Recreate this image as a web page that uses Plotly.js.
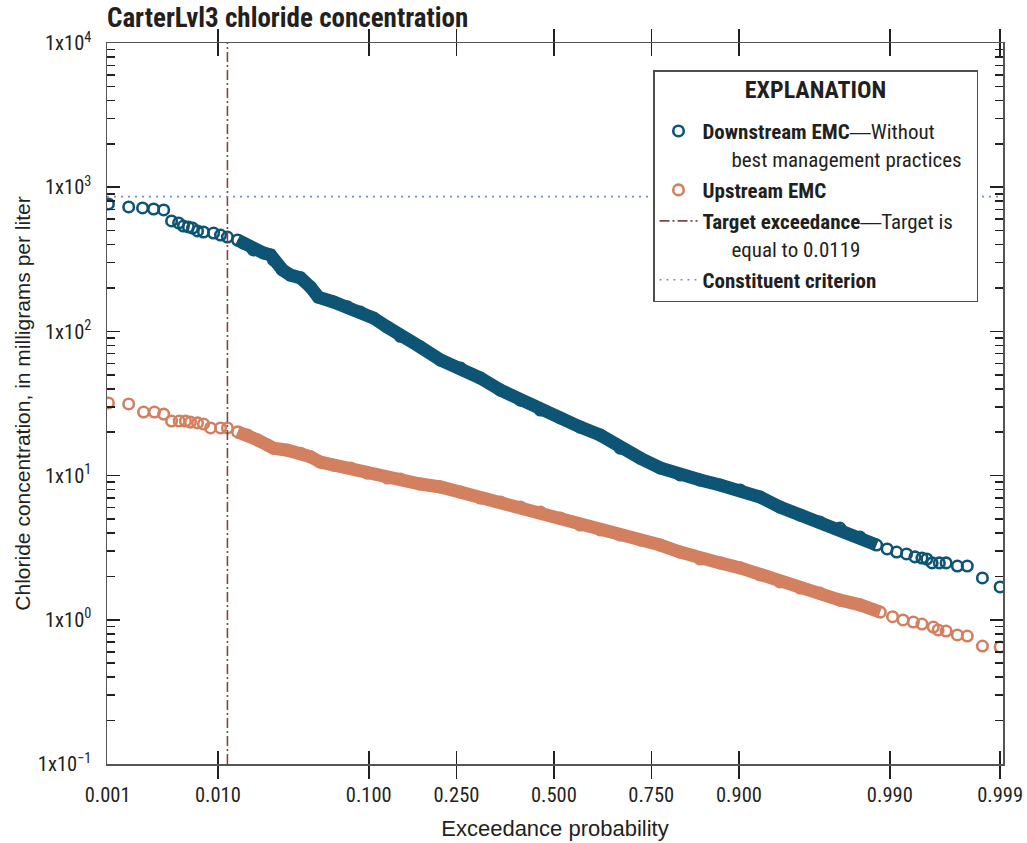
<!DOCTYPE html>
<html>
<head>
<meta charset="utf-8">
<script src="https://cdn.plot.ly/plotly-3.0.1.min.js"></script>
<style>html,body{margin:0;padding:0;background:#fff;}#chart{width:1027px;height:843px;}</style>
</head>
<body>
<div id="chart"></div>
<script>
// ---------- data ----------
const chartTitle = 'CarterLvl3 chloride concentration';

// Downstream EMC (without BMPs): exceedance probability and concentration (mg/L)
const downstreamProb = [0.00102,0.00162,0.00220,0.00279,0.00345,0.00406,0.00468,0.00516,0.00570,0.00618,0.00681,
  0.00763,0.00923,0.0105,0.0119,0.01426,0.0158,0.01875,0.0222,0.0249,0.0261,0.0301,0.0340,0.0397,0.0460,0.0515,0.0635,0.0765,0.0902,0.1057,0.1246,0.1440,
  0.1776,0.2164,0.2591,0.3054,0.3558,0.4084,0.4629,0.518,0.5726,0.6262,0.6770,0.7254,0.7692,0.8090,0.8446,0.8750,0.9016,0.9233,0.9412,0.9560,0.9672,0.9762,0.9830,0.9873,0.9895,
  0.9912,0.9927,0.9938,0.9946,0.9951,0.9956,0.9962,0.9967,0.9974,0.9979,0.9985,0.9990];
const downstreamConc = [765,729,718,706,695,583,565,538,530,521,497,
  489,481,466,451,430,410,367,350,339,313,267,246,235,203,173,160,148,136,124,107,92.5,
  78.0,63.3,55.7,47.5,39.2,33.4,28.5,25.1,21.7,19.1,15.5,13.2,11.3,10.1,9.32,8.61,7.94,7.11,6.06,5.33,4.77,4.33,3.75,3.30,3.10,
  2.95,2.86,2.73,2.68,2.64,2.48,2.48,2.48,2.36,2.36,1.95,1.69];

// Upstream EMC
const upstreamProb = [0.00102,0.00162,0.00225,0.00284,0.00345,0.00406,0.00474,0.00537,0.00593,0.00681,0.00763,
  0.00872,0.0105,0.0119,0.01426,0.01694,0.02006,0.0237,0.0261,0.0326,0.0397,0.0460,0.0530,0.0635,0.0797,0.0984,0.1246,0.1440,
  0.1776,0.2164,0.2591,0.3054,0.3558,0.4084,0.4629,0.518,0.5726,0.6262,0.6770,0.7254,0.7692,0.8090,0.8446,0.8750,0.9016,0.9233,0.9412,0.9560,0.9672,0.9762,0.9830,
  0.9881,0.9905,0.9922,0.9936,0.9946,0.9957,0.9961,0.9967,0.9974,0.9979,0.9985,0.9990];
const upstreamConc = [31.9,31.4,27.6,27.6,26.7,23.9,23.9,23.9,23.5,23.2,22.8,
  21.4,21.4,21.4,20.1,19.1,17.7,16.3,15.5,15.0,14.3,13.5,12.4,11.8,11.3,10.4,9.62,9.47,
  8.74,8.34,7.70,6.99,6.56,6.06,5.59,5.08,4.54,4.20,3.87,3.58,3.30,2.95,2.64,2.48,2.29,2.05,1.83,1.66,1.53,1.37,1.27,
  1.13,1.05,0.997,0.965,0.935,0.891,0.850,0.836,0.785,0.772,0.658,0.648];

const targetExceedance = 0.0119;   // target exceedance probability
const criterionValue = 860;        // constituent criterion, mg/L

const xTickProbs  = [0.001,0.01,0.1,0.25,0.5,0.75,0.9,0.99,0.999];
const xTickLabels = ['0.001','0.010','0.100','0.250','0.500','0.750','0.900','0.990','0.999'];
const yTickVals   = [0.1,1,10,100,1000,10000];
const yTickLabels = ['1x10<sup>\u22121</sup>','1x10<sup>0</sup>','1x10<sup>1</sup>','1x10<sup>2</sup>','1x10<sup>3</sup>','1x10<sup>4</sup>'];
const xRangeProb = [0.001, 0.999];
const yRange = [0.1, 10000];

// ---------- probability-scale transform (inverse normal CDF) ----------
function probit(p){
  const a=[-3.969683028665376e+01,2.209460984245205e+02,-2.759285104469687e+02,1.383577518672690e+02,-3.066479806614716e+01,2.506628277459239e+00];
  const b=[-5.447609879822406e+01,1.615858368580409e+02,-1.556989798598866e+02,6.680131188771972e+01,-1.328068155288572e+01];
  const c=[-7.784894002430293e-03,-3.223964580411365e-01,-2.400758277161838e+00,-2.549671180840284e+00,4.374664141464968e+00,2.938163982698783e+00];
  const d=[7.784695709041462e-03,3.224671290700398e-01,2.445134137142996e+00,3.754408661907416e+00];
  const pl=0.02425, ph=1-pl; let q,r;
  if(p<pl){q=Math.sqrt(-2*Math.log(p));return (((((c[0]*q+c[1])*q+c[2])*q+c[3])*q+c[4])*q+c[5])/((((d[0]*q+d[1])*q+d[2])*q+d[3])*q+1);}
  if(p<=ph){q=p-0.5;r=q*q;return (((((a[0]*r+a[1])*r+a[2])*r+a[3])*r+a[4])*r+a[5])*q/(((((b[0]*r+b[1])*r+b[2])*r+b[3])*r+b[4])*r+1);}
  q=Math.sqrt(-2*Math.log(1-p));return -(((((c[0]*q+c[1])*q+c[2])*q+c[3])*q+c[4])*q+c[5])/((((d[0]*q+d[1])*q+d[2])*q+d[3])*q+1);
}

// ---------- styling ----------
const COND = '"Roboto Condensed","Liberation Sans",Arial,sans-serif';
const REG = '"Liberation Sans",Arial,sans-serif';
const TXT = '#231f20';
const DS_COLOR = '#0e5474';
const US_COLOR = '#d2805f';
const TARGET_COLOR = '#7a4a40';
const CRIT_COLOR = '#6f94b8';
const NB = '\u00A0';
const indent = NB.repeat(6);
const L = s => '<span style="font-size:21px">' + s + '</span>';
const EMDASH = '<span style="font-family:Liberation Sans">\u2014</span>';

const zr = [probit(xRangeProb[0]) - 0.004, probit(xRangeProb[1]) + 0.02];
const band = [0.013, 0.9885];

function bandTrace(prob, conc, color){
  const x=[], y=[];
  prob.forEach((p,i)=>{ if(p>=band[0] && p<=band[1]){ x.push(probit(p)); y.push(conc[i]); } });
  return {x, y, type:'scatter', mode:'lines', line:{color, width:13}, showlegend:false, hoverinfo:'skip'};
}
function markerTrace(prob, conc, color, name){
  return {x:prob.map(probit), y:conc, customdata:prob, type:'scatter', mode:'markers', name,
    marker:{symbol:'circle-open', size:10.5, color, line:{width:2.6, color}},
    hovertemplate:'p=%{customdata}<br>%{y} mg/L<extra></extra>'};
}

const traces = [
  bandTrace(downstreamProb, downstreamConc, DS_COLOR),
  bandTrace(upstreamProb, upstreamConc, US_COLOR),
  markerTrace(downstreamProb, downstreamConc, DS_COLOR, L('<b>Downstream EMC</b>' + EMDASH + 'Without') + '<br>' + L(indent+'best management practices'+NB+NB)),
  markerTrace(upstreamProb, upstreamConc, US_COLOR, L('<b>Upstream EMC</b>')),
  {x:[probit(targetExceedance), probit(targetExceedance)], y:yRange, type:'scatter', mode:'lines',
   name: L('<b>Target exceedance</b>' + EMDASH + 'Target is') + '<br>' + L(indent+'equal to 0.0119'),
   line:{color:TARGET_COLOR, width:1.6, dash:'10px,3px,2px,3px'}},
  {x:zr, y:[criterionValue, criterionValue], type:'scatter', mode:'lines',
   name: L('<b>Constituent criterion</b>'),
   line:{color:CRIT_COLOR, width:1.6, dash:'2px,5px'}}
];

const minorVals = [];
for(let k=-1;k<4;k++){ for(let m=2;m<=9;m++){ minorVals.push(m*Math.pow(10,k)); } }

const yCommon = {type:'log', range:yRange.map(Math.log10), tickmode:'array', tickvals:yTickVals,
    ticks:'inside', ticklen:13, tickwidth:1.5, tickcolor:TXT, showgrid:false, zeroline:false, automargin:false,
    minor:{tickmode:'array', tickvals:minorVals, ticks:'inside', ticklen:8, tickwidth:1.5, tickcolor:TXT, showgrid:false}};

const layout = {
  width:1027, height:843,
  margin:{l:107, r:24, t:43, b:79, pad:0},
  paper_bgcolor:'#fff', plot_bgcolor:'#fff',
  font:{family:COND, size:20.5, color:TXT},
  showlegend:true,
  title:{text:'<b>'+chartTitle+'</b>', xref:'container', x:107/1027, xanchor:'left', yref:'container', y:1-18/843, yanchor:'middle', font:{family:COND, size:27, color:TXT}},
  xaxis:{range:zr, tickmode:'array', tickvals:xTickProbs.map(probit), ticktext:xTickLabels,
    ticks:'inside', ticklen:13, tickwidth:1.5, tickcolor:TXT, showline:true, linecolor:'#555', linewidth:1.5,
    mirror:'allticks', showgrid:false, zeroline:false, automargin:false, ticklabelstandoff:12,
    tickfont:{family:COND, size:20.5, color:TXT},
    title:{text:'Exceedance probability', font:{family:REG, size:22, color:TXT}, standoff:14}},
  yaxis:Object.assign({}, yCommon, {ticktext:yTickLabels, showline:true, linecolor:'#555', linewidth:1.5, mirror:true,
    ticklabelstandoff:10, tickfont:{family:COND, size:20.5, color:TXT},
    title:{text:'Chloride concentration, in milligrams per liter', font:{family:REG, size:21, color:TXT}, standoff:1}}),
  yaxis2:Object.assign({}, yCommon, {overlaying:'y', side:'right', showticklabels:false, showline:false}),
  legend:{x:(653-107)/896, xanchor:'left', y:(764-70)/721, yanchor:'top', bgcolor:'#fff', bordercolor:'#4d4d4d', borderwidth:1.5,
    font:{family:COND, size:21.5, color:TXT}, valign:'top', traceorder:'normal', itemwidth:38,
    title:{text:'<sup><span style="font-size:24px"><b>EXPLANATION</b></span></sup>', side:'top center', font:{family:COND, size:30, color:TXT}}}
};
// keep the right-hand y axis drawn
traces.push({x:[zr[0]], y:[1], yaxis:'y2', type:'scatter', mode:'markers', marker:{opacity:0}, showlegend:false, hoverinfo:'skip'});

Plotly.newPlot('chart', traces, layout, {staticPlot:true, displayModeBar:false});
</script>
</body>
</html>
